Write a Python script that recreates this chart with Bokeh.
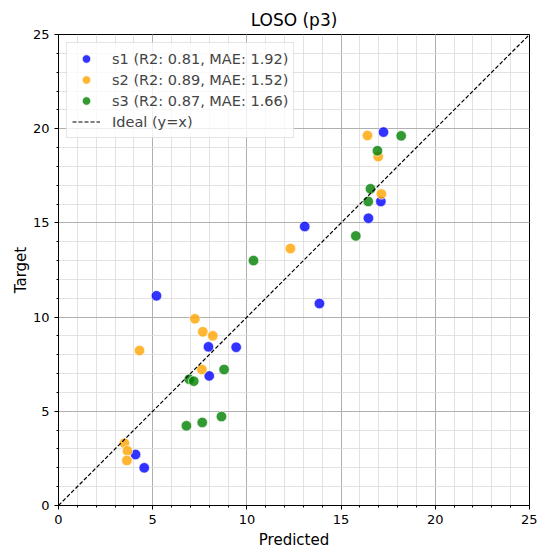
from bokeh.plotting import figure
from bokeh.models import Range1d, SingleIntervalTicker, Legend, LegendItem
from bokeh.embed import file_html
from bokeh.resources import INLINE

# Leave-one-subject-out predictions per subject
s1_pred = [17.25, 17.11, 16.45, 13.07, 13.85, 5.20, 7.96, 9.43, 8.00, 4.09, 4.55]
s1_target = [19.82, 16.14, 15.25, 14.81, 10.72, 11.13, 8.42, 8.40, 6.88, 2.71, 2.00]

s2_pred = [16.40, 16.97, 17.14, 12.31, 7.24, 7.66, 8.19, 4.30, 7.61, 3.50, 3.66, 3.63]
s2_target = [19.64, 18.52, 16.54, 13.64, 9.91, 9.22, 9.01, 8.23, 7.22, 3.31, 2.90, 2.39]

s3_pred = [18.19, 16.93, 16.56, 16.44, 15.78, 10.35, 8.79, 6.94, 7.18, 8.65, 7.63, 6.79]
s3_target = [19.62, 18.83, 16.81, 16.14, 14.31, 13.00, 7.22, 6.70, 6.60, 4.72, 4.41, 4.23]

series_labels = [
    "s1 (R2: 0.81, MAE: 1.92)",
    "s2 (R2: 0.89, MAE: 1.52)",
    "s3 (R2: 0.87, MAE: 1.66)",
]
series_colors = ["blue", "orange", "green"]
ideal_label = "Ideal (y=x)"
axis_limits = [0, 25]

FONT = "DejaVu Sans"

p = figure(
    width=537, height=552,
    x_range=Range1d(*axis_limits), y_range=Range1d(*axis_limits),
    output_backend="svg", toolbar_location=None,
    min_border_left=58, min_border_right=8, min_border_top=34, min_border_bottom=47,
)
p.background_fill_color = "white"
p.border_fill_color = "white"
p.outline_line_color = "black"
p.outline_line_width = 1

p.title.text = "LOSO (p3)"
p.title.align = "center"
p.title.text_font = FONT
p.title.text_font_size = "17px"
p.title.text_font_style = "normal"
p.title.text_color = "black"

for ax, lbl, standoff in ((p.xaxis, "Predicted", 4), (p.yaxis, "Target", 0)):
    ax.ticker = SingleIntervalTicker(interval=5, num_minor_ticks=5)
    ax.axis_label = lbl
    ax.axis_label_text_font = FONT
    ax.axis_label_text_font_size = "15px"
    ax.axis_label_text_font_style = "normal"
    ax.axis_label_text_color = "black"
    ax.axis_label_standoff = standoff
    ax.major_label_text_font = FONT
    ax.major_label_text_font_size = "13px"
    ax.major_label_text_color = "black"
    ax.major_tick_in = 0
    ax.major_tick_out = 4
    ax.minor_tick_in = 0
    ax.minor_tick_out = 2
    ax.axis_line_color = "black"
    ax.major_tick_line_color = "black"
    ax.minor_tick_line_color = "black"

for g in (p.xgrid, p.ygrid):
    g.ticker = SingleIntervalTicker(interval=5, num_minor_ticks=5)
    g.grid_line_color = "#b0b0b0"
    g.grid_line_alpha = 1.0
    g.grid_line_width = 1
    g.minor_grid_line_color = "#dadada"
    g.minor_grid_line_alpha = 1.0
    g.minor_grid_line_width = 0.8

items = []
for xs, ys, col, lbl in zip(
    (s1_pred, s2_pred, s3_pred),
    (s1_target, s2_target, s3_target),
    series_colors, series_labels,
):
    r = p.scatter(xs, ys, size=10.5, fill_color=col, fill_alpha=0.8,
                  line_color="white", line_width=0.8, line_alpha=0.8)
    items.append(LegendItem(label=lbl, renderers=[r]))

ideal = p.line(axis_limits, axis_limits, line_color="black", line_dash="4 2", line_width=1.2)
items.append(LegendItem(label=ideal_label, renderers=[ideal]))

legend = Legend(items=items, location="top_left")
legend.label_text_font = FONT
legend.label_text_font_size = "14.5px"
legend.label_height = 21
legend.glyph_height = 21
legend.glyph_width = 28
legend.label_standoff = 12
legend.spacing = 0
legend.padding = 5
legend.margin = 8
legend.background_fill_color = "white"
legend.background_fill_alpha = 0.8
legend.border_line_color = "#cccccc"
legend.border_line_width = 1
p.add_layout(legend)

open("out.html", "w").write(file_html(p, INLINE))
